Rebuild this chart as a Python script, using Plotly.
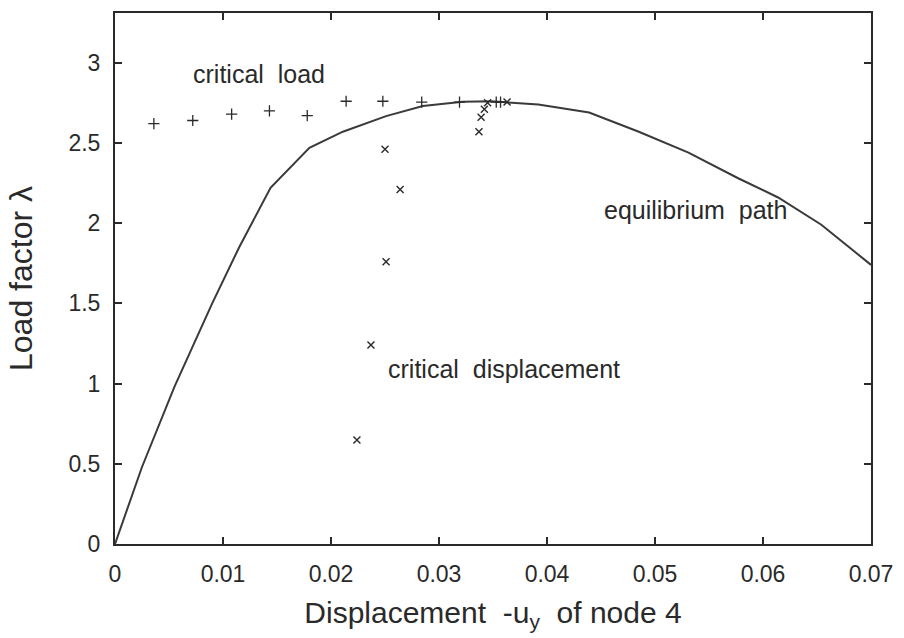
import plotly.graph_objects as go

# Equilibrium path
path_x = [0, 0.0025, 0.0055, 0.0090, 0.0115, 0.0144, 0.0180, 0.0211, 0.0251,
          0.0285, 0.0322, 0.0348, 0.0392, 0.0439, 0.0485, 0.0531, 0.0577, 0.0614, 0.0654, 0.0700]
path_y = [0, 0.48, 0.98, 1.50, 1.85, 2.22, 2.47, 2.57, 2.667,
          2.73, 2.756, 2.76, 2.74, 2.69, 2.57, 2.44, 2.28, 2.16, 1.99, 1.74]

# Critical load (+)
load_x = [0.0036, 0.0072, 0.0108, 0.0143, 0.0178, 0.0214, 0.0248, 0.0284, 0.0319, 0.0353, 0.0357]
load_y = [2.62, 2.64, 2.68, 2.70, 2.67, 2.76, 2.76, 2.755, 2.755, 2.755, 2.755]

# Critical displacement (x)
disp_x = [0.0224, 0.0237, 0.0251, 0.0264, 0.0250, 0.0337, 0.0339, 0.0342, 0.0345, 0.0363]
disp_y = [0.648, 1.24, 1.76, 2.21, 2.46, 2.57, 2.66, 2.71, 2.75, 2.755]

x_ticks = [0, 0.01, 0.02, 0.03, 0.04, 0.05, 0.06, 0.07]
x_tick_labels = ["0", "0.01", "0.02", "0.03", "0.04", "0.05", "0.06", "0.07"]
y_ticks = [0, 0.5, 1, 1.5, 2, 2.5, 3]
y_tick_labels = ["0", "0.5", "1", "1.5", "2", "2.5", "3"]

INK = "#2a2a2a"
FONT = "Liberation Sans, Arial, sans-serif"

fig = go.Figure()
fig.add_trace(go.Scatter(x=path_x, y=path_y, mode="lines",
                         line=dict(color="#3a3a3a", width=2), showlegend=False))
fig.add_trace(go.Scatter(x=load_x, y=load_y, mode="markers",
                         marker=dict(symbol="cross-thin", size=8,
                                     line=dict(color=INK, width=1.3)),
                         showlegend=False))
fig.add_trace(go.Scatter(x=disp_x, y=disp_y, mode="markers",
                         marker=dict(symbol="x-thin", size=7,
                                     line=dict(color=INK, width=1.4)),
                         showlegend=False))

ann_font = dict(family=FONT, size=25, color=INK)
fig.add_annotation(x=0.00700, y=2.93, text="critical\u00a0\u00a0load", showarrow=False,
                   xanchor="left", yanchor="middle", font=ann_font)
fig.add_annotation(x=0.0451, y=2.08, text="equilibrium\u00a0\u00a0path", showarrow=False,
                   xanchor="left", yanchor="middle", font=ann_font)
fig.add_annotation(x=0.02505, y=1.09, text="critical\u00a0\u00a0displacement", showarrow=False,
                   xanchor="left", yanchor="middle", font=ann_font)

axis_common = dict(showgrid=False, zeroline=False, showline=True, linecolor=INK,
                   linewidth=2, mirror="ticks", ticks="inside", ticklen=7,
                   tickwidth=1.5, tickcolor=INK,
                   tickfont=dict(family=FONT, size=23, color=INK))

fig.update_layout(
    width=904, height=638,
    margin=dict(l=115, r=26, t=11, b=94),
    paper_bgcolor="white", plot_bgcolor="white",
    xaxis=dict(range=[0, 0.07], tickvals=x_ticks, ticktext=x_tick_labels,
               ticklabelstandoff=8,
               title=dict(text="Displacement\u00a0\u00a0-u<sub>y</sub>\u00a0\u00a0of node 4",
                          font=dict(family=FONT, size=30, color=INK), standoff=16),
               **axis_common),
    yaxis=dict(range=[0, 3.31], tickvals=y_ticks, ticktext=y_tick_labels,
               ticklabelstandoff=8,
               title=dict(text="Load factor \u03bb",
                          font=dict(family=FONT, size=32, color=INK), standoff=26),
               **axis_common),
)

fig.write_html("out.html")
